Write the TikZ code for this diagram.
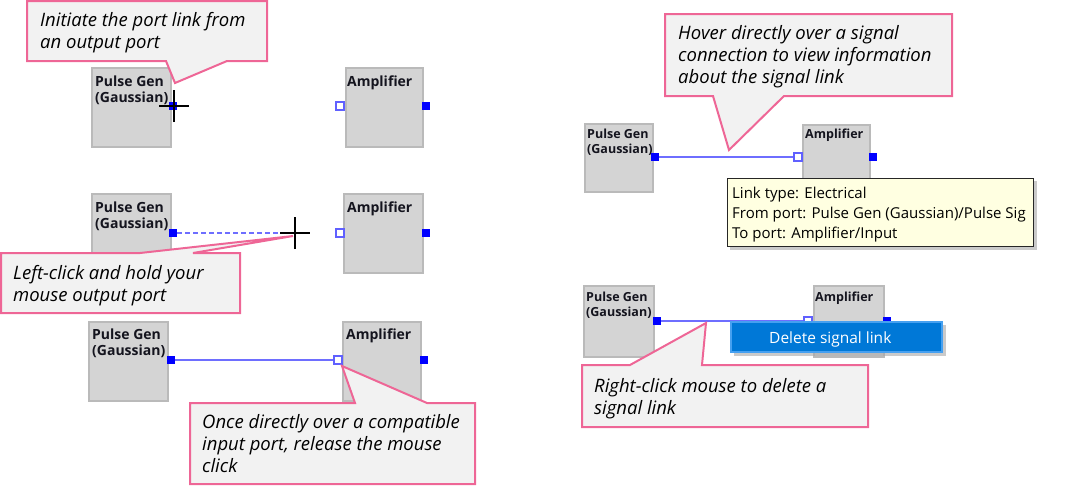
\documentclass[tikz,border=0pt]{standalone}
\usepackage{fontspec}
\setmainfont{Open Sans}
\definecolor{pinkb}{RGB}{238,102,150}
\definecolor{cofill}{RGB}{242,242,242}
\definecolor{blkfill}{RGB}{212,212,212}
\definecolor{blkdraw}{RGB}{186,186,186}
\definecolor{portblue}{RGB}{0,0,255}
\definecolor{portedge}{RGB}{96,96,255}
\definecolor{linkblue}{RGB}{110,110,255}
\definecolor{tipfill}{RGB}{255,255,225}
\definecolor{menufill}{RGB}{0,120,215}
\definecolor{menuedge}{RGB}{70,160,240}
\definecolor{lbltext}{RGB}{20,20,30}
\newcommand\cofont{\fontsize{18.5}{22}\selectfont\itshape}
\newcommand\lblbig{\fontsize{14}{16}\selectfont\bfseries}
\newcommand\lblsmall{\fontsize{12.5}{15}\selectfont\bfseries}
\tikzset{
  blockbox/.style={draw=blkdraw, line width=1.5pt, fill=blkfill, rectangle, inner sep=0pt, anchor=north west},
  portfull/.style={rectangle, fill=portblue, minimum size=8pt, inner sep=0pt},
  porthollow/.style={rectangle, draw=portedge, line width=1.2pt, fill=white, minimum size=8pt, inner sep=0pt},
  linkline/.style={draw=linkblue, line width=2.5pt},
  calloutbox/.style={draw=pinkb, fill=cofill, line width=2pt, line join=miter},
  cotext/.style={anchor=north west, inner sep=0pt, align=left, font=\cofont, text=black},
  lbl/.style={anchor=north west, inner sep=0pt, align=left, text=lbltext},
  crosshair/.style={draw=black, line width=2.5pt},
}
\begin{document}
\begin{tikzpicture}[x=1pt,y=-1pt]
\useasboundingbox (0,0) rectangle (1069,491);

% ---------- left: blocks ----------
\node[blockbox, minimum width=79pt, minimum height=79pt] (pgA) at (91,67) {};
\node[blockbox, minimum width=77pt, minimum height=79pt] (amA) at (345,67) {};
\node[blockbox, minimum width=79pt, minimum height=79pt] (pgB) at (91,193) {};
\node[blockbox, minimum width=79pt, minimum height=79pt] (amB) at (343,193) {};
\node[blockbox, minimum width=79pt, minimum height=79pt] (pgC) at (88,321) {};
\node[blockbox, minimum width=78pt, minimum height=79pt] (amC) at (342,321) {};

\node[lbl, font=\lblbig] (tpgA) at (95,75.4) {Pulse Gen\\(Gaussian)};
\node[lbl, font=\lblbig] (tamA) at (347,75.4) {Amplifier};
\node[lbl, font=\lblbig] (tpgB) at (95,201.4) {Pulse Gen\\(Gaussian)};
\node[lbl, font=\lblbig] (tamB) at (347,201.4) {Amplifier};
\node[lbl, font=\lblbig] (tpgC) at (92,328.4) {Pulse Gen\\(Gaussian)};
\node[lbl, font=\lblbig] (tamC) at (346,328.4) {Amplifier};

% ports
\node[portfull] (pgAo) at (173,106) {};
\node[porthollow] (amAi) at (340,106) {};
\node[portfull] (amAo) at (426,106) {};
\node[portfull] (pgBo) at (173,233) {};
\node[porthollow] (amBi) at (340,233) {};
\node[portfull] (amBo) at (426,233) {};
\node[portfull] (pgCo) at (171,360) {};
\node[porthollow] (amCi) at (338,360) {};
\node[portfull] (amCo) at (424,360) {};

% links
\coordinate (crossB) at (295,233);
\coordinate (crossA) at (174,106);
\draw[linkline, dash pattern=on 5pt off 3pt] (pgBo.east) -- (crossB);
\draw[linkline] (pgCo.east) -- (amCi.west);

% ---------- right: blocks ----------
\node[blockbox, minimum width=68pt, minimum height=68pt] (pgD) at (584,123) {};
\node[blockbox, minimum width=67pt, minimum height=67pt] (amD) at (802,124) {};
\node[blockbox, minimum width=70pt, minimum height=71pt] (pgE) at (583,285) {};
\node[blockbox, minimum width=70pt, minimum height=71pt] (amE) at (813,285) {};

\node[lbl, font=\lblsmall] (tpgD) at (587,128.5) {Pulse Gen\\(Gaussian)};
\node[lbl, font=\lblsmall] (tamD) at (805,128.5) {Amplifier};
\node[lbl, font=\lblsmall] (tpgE) at (586,291.5) {Pulse Gen\\(Gaussian)};
\node[lbl, font=\lblsmall] (tamE) at (815,291.5) {Amplifier};

\node[portfull] (pgDo) at (655,157) {};
\node[porthollow] (amDi) at (798,157) {};
\node[portfull] (amDo) at (873,157) {};
\node[portfull] (pgEo) at (657,321) {};
\node[porthollow] (amEi) at (808,321) {};
\node[portfull] (amEo) at (887,321) {};

\draw[linkline] (pgDo.east) -- (amDi.west);
\draw[linkline] (pgEo.east) -- (amEi.west);

% ---------- callouts ----------
\draw[calloutbox] (27,1) -- (267,1) -- (267,61) -- (227,61) -- (175,83) -- (166,61) -- (27,61) -- cycle;
\node[cotext] (cA) at (40,11.9) {Initiate the port link from\\an output port};

\draw[calloutbox] (1,253) -- (140,253) -- (293,236) -- (193,253) -- (240,253) -- (240,313) -- (1,313) -- cycle;
\node[cotext] (cB) at (13,264.9) {Left-click and hold your\\mouse output port};

\draw[calloutbox] (190,403) -- (355,403) -- (342,366) -- (427,403) -- (475,403) -- (475,484) -- (190,484) -- cycle;
\node[cotext] (cC) at (202,413.9) {Once directly over a compatible\\input port, release the mouse\\click};

\draw[calloutbox] (665,14) -- (952,14) -- (952,96) -- (784,96) -- (729,150) -- (713,96) -- (665,96) -- cycle;
\node[cotext] (cD) at (678,24.9) {Hover directly over a signal\\connection to view information\\about the signal link};

\draw[calloutbox] (582,365) -- (630,365) -- (706,323) -- (702,365) -- (868,365) -- (868,427) -- (582,427) -- cycle;
\node[cotext] (cE) at (594,377.9) {Right-click mouse to delete a\\signal link};

% ---------- tooltip ----------
\fill[black!35, opacity=0.6] (730,181) rectangle (1037,250);
\draw[fill=tipfill, draw=black!85, line width=1pt] (727,178) rectangle (1033,246);
\node[anchor=north west, inner sep=0pt, align=left, font=\fontsize{15}{20}\selectfont] (tip) at (732,186.6)
  {Link type: Electrical\\From port: Pulse Gen (Gaussian)/Pulse Sig\\To port: Amplifier/Input};

% ---------- context menu ----------
\fill[black!35, opacity=0.6] (734,325) rectangle (946,356);
\draw[fill=menufill, draw=menuedge, line width=1.5pt] (731,322) rectangle (942,352);
\node[anchor=base west, inner sep=0pt, text=white, font=\fontsize{15.5}{18}\selectfont] (menu) at (769,343) {Delete signal link};

% ---------- crosshairs ----------
\draw[crosshair] ([xshift=-15pt]crossA) -- ([xshift=15pt]crossA);
\draw[crosshair] ([yshift=-16pt]crossA) -- ([yshift=16pt]crossA);
\draw[crosshair] ([xshift=-15pt]crossB) -- ([xshift=15pt]crossB);
\draw[crosshair] ([yshift=-16pt]crossB) -- ([yshift=16pt]crossB);
\end{tikzpicture}
\end{document}
